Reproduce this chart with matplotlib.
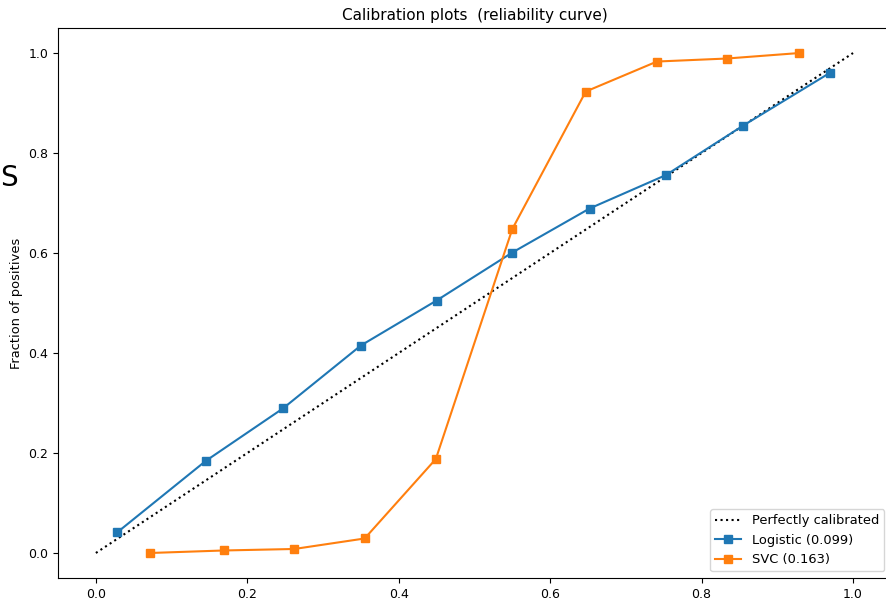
import matplotlib
matplotlib.use("Agg")
import matplotlib.pyplot as plt

# mean predicted value / fraction of positives per bin
logistic_pred = [0.028, 0.145, 0.247, 0.350, 0.450, 0.550, 0.652, 0.753, 0.855, 0.969]
logistic_frac = [0.041, 0.184, 0.289, 0.415, 0.505, 0.601, 0.689, 0.756, 0.855, 0.960]

svc_pred = [0.072, 0.169, 0.262, 0.355, 0.449, 0.550, 0.647, 0.741, 0.833, 0.929]
svc_frac = [0.000, 0.005, 0.008, 0.029, 0.188, 0.648, 0.923, 0.983, 0.989, 1.000]

labels = ["Logistic (0.099)", "SVC (0.163)"]

fig = plt.figure(figsize=(8.87, 6.03), dpi=100)
ax = fig.add_axes([0.0654, 0.0415, 0.939, 0.912])

ax.plot([0, 1], [0, 1], "k:", label="Perfectly calibrated")
ax.plot(logistic_pred, logistic_frac, "s-", label=labels[0])
ax.plot(svc_pred, svc_frac, "s-", label=labels[1])

ax.set_xlim(-0.05, 1.05)
ax.set_ylim(-0.05, 1.05)
ax.set_ylabel("Fraction of positives", fontsize=9.4)
ax.set_title("Calibration plots  (reliability curve)", fontsize=11)
ax.tick_params(labelsize=9)
ax.legend(loc="lower right", fontsize=9.4)

# leftover of a cropped label
fig.text(0.0, 1 - 178 / 603, "S", fontsize=20, va="center", ha="left")

fig.savefig("out.png", dpi=100)
